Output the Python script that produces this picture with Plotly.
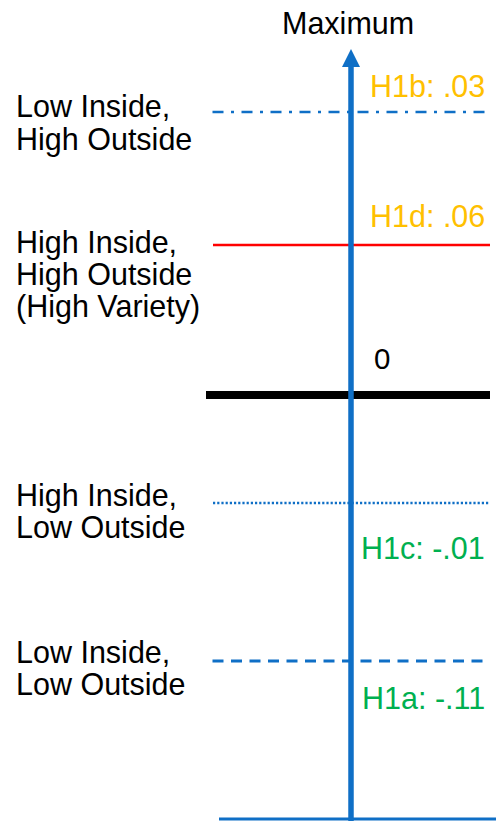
import plotly.graph_objects as go

# ---- data ----
group_labels = [
    ["Low Inside,", "High Outside"],
    ["High Inside,", "High Outside", "(High Variety)"],
    ["High Inside,", "Low Outside"],
    ["Low Inside,", "Low Outside"],
]
hyp_names = ["H1b", "H1d", "H1c", "H1a"]
hyp_values = [".03", ".06", "-.01", "-.11"]
# diagram levels (conceptual vertical scale, zero line = 0)
hyp_levels = [283, 150, -108, -266]
zero_level = 0
top_level = 346
bottom_level = -424
axis_title = "Maximum"

# ---- styles ----
BLUE = "#0F6FC6"
ORANGE = "#FFC000"
GREEN = "#00B050"
RED = "#FF0000"
FONT = "Liberation Sans, Arial, Helvetica, sans-serif"
FS = 30.5

line_styles = [
    dict(color=BLUE, width=2.5, dash="11px,7.5px,3px,7.5px"),
    dict(color=RED, width=2.5, dash="solid"),
    dict(color=BLUE, width=2.5, dash="2.2px,2px"),
    dict(color=BLUE, width=3, dash="11px,7.5px"),
]
line_x = [(212.5, 487), (213, 490), (213, 490), (212.5, 484)]
hyp_colors = [ORANGE, ORANGE, GREEN, GREEN]
text_offsets = [26, 29, -45, -37]
label_offsets = [
    [6, -27],
    [3, -29, -61],
    [8, -24],
    [9, -23],
]

fig = go.Figure()

# horizontal level lines
for lvl, st, (x0, x1) in zip(hyp_levels, line_styles, line_x):
    fig.add_trace(go.Scatter(x=[x0, x1], y=[lvl, lvl], mode="lines",
                             line=st, hoverinfo="skip", showlegend=False))

# zero line
fig.add_trace(go.Scatter(x=[206, 490], y=[zero_level, zero_level], mode="lines",
                         line=dict(color="black", width=8), hoverinfo="skip",
                         showlegend=False))

# bottom baseline
fig.add_trace(go.Scatter(x=[219, 496], y=[bottom_level, bottom_level], mode="lines",
                         line=dict(color=BLUE, width=3), hoverinfo="skip",
                         showlegend=False))

# vertical arrow shaft
fig.add_trace(go.Scatter(x=[351, 351], y=[bottom_level - 2, top_level - 14], mode="lines",
                         line=dict(color=BLUE, width=5.5), hoverinfo="skip",
                         showlegend=False))
# arrow head
fig.add_trace(go.Scatter(x=[351], y=[top_level], mode="markers",
                         marker=dict(symbol="arrow-up", size=18, color=BLUE,
                                     line=dict(width=0)),
                         hoverinfo="skip", showlegend=False))

annotations = []
# hypothesis values
for name, val, lvl, col, off in zip(hyp_names, hyp_values, hyp_levels, hyp_colors, text_offsets):
    annotations.append(dict(x=487, y=lvl + off, xref="x", yref="y", text=f"{name}: {val}",
                            showarrow=False, xanchor="right", yanchor="middle",
                            font=dict(family=FONT, size=FS, color=col)))
# zero label
annotations.append(dict(x=382, y=zero_level + 37, xref="x", yref="y", text="0",
                        showarrow=False, xanchor="center", yanchor="middle",
                        font=dict(family=FONT, size=FS - 1, color="black")))
# Maximum label
annotations.append(dict(x=348, y=top_level + 26, xref="x", yref="y", text=axis_title,
                        showarrow=False, xanchor="center", yanchor="middle",
                        font=dict(family=FONT, size=FS, color="black")))
# left group labels
for lines, offs, lvl in zip(group_labels, label_offsets, hyp_levels):
    for t, o in zip(lines, offs):
        annotations.append(dict(x=14, y=lvl + o, xref="x", yref="y", text=t,
                                showarrow=False, xanchor="left", yanchor="middle",
                                font=dict(family=FONT, size=FS, color="black")))

fig.update_layout(
    width=496, height=821,
    margin=dict(l=0, r=0, t=0, b=0),
    paper_bgcolor="white", plot_bgcolor="white",
    xaxis=dict(range=[0, 496], visible=False, fixedrange=True),
    yaxis=dict(range=[bottom_level - 2, 395], visible=False, fixedrange=True),
    annotations=annotations,
    showlegend=False,
)

fig.write_html("out.html", config={"displayModeBar": False},
               post_script="document.body.style.margin='0';document.body.style.overflow='hidden';")
